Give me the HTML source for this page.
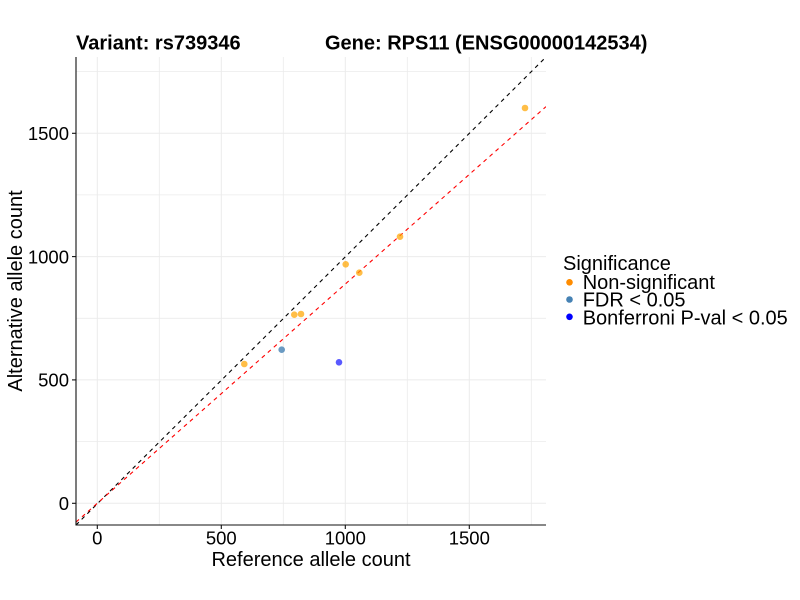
<!DOCTYPE html>
<html>
<head>
<meta charset="utf-8">
<style>
html,body{margin:0;padding:0;background:#fff;}
svg{display:block;}
text{font-family:"Liberation Sans",Arial,sans-serif;fill:#000;}
</style>
</head>
<body>
<svg width="800" height="600" viewBox="0 0 800 600" xmlns="http://www.w3.org/2000/svg">
<defs>
<clipPath id="panel"><rect x="76" y="57" width="470" height="468"/></clipPath>
</defs>
<rect x="0" y="0" width="800" height="600" fill="#fff"/>

<!-- Title -->
<text x="76" y="49.5" font-size="20" font-weight="bold">Variant: rs739346</text>
<text x="325" y="49.5" font-size="20" font-weight="bold">Gene: RPS11 (ENSG00000142534)</text>

<!-- grid -->
<g stroke="#ebebeb" stroke-width="1" fill="none">
<line x1="159.3" y1="57" x2="159.3" y2="525" stroke-width="0.8"/>
<line x1="283.3" y1="57" x2="283.3" y2="525" stroke-width="0.8"/>
<line x1="407.3" y1="57" x2="407.3" y2="525" stroke-width="0.8"/>
<line x1="531.3" y1="57" x2="531.3" y2="525" stroke-width="0.8"/>
<line x1="76" y1="441.6" x2="546" y2="441.6" stroke-width="0.8"/>
<line x1="76" y1="318.3" x2="546" y2="318.3" stroke-width="0.8"/>
<line x1="76" y1="194.9" x2="546" y2="194.9" stroke-width="0.8"/>
<line x1="76" y1="71.6" x2="546" y2="71.6" stroke-width="0.8"/>
<line x1="97.3" y1="57" x2="97.3" y2="525"/>
<line x1="221.3" y1="57" x2="221.3" y2="525"/>
<line x1="345.3" y1="57" x2="345.3" y2="525"/>
<line x1="469.3" y1="57" x2="469.3" y2="525"/>
<line x1="76" y1="503.3" x2="546" y2="503.3"/>
<line x1="76" y1="379.9" x2="546" y2="379.9"/>
<line x1="76" y1="256.6" x2="546" y2="256.6"/>
<line x1="76" y1="133.3" x2="546" y2="133.3"/>
</g>

<g clip-path="url(#panel)">
<line x1="76" y1="525" x2="546" y2="57" stroke="#000" stroke-width="1.1" stroke-dasharray="4 4"/>
<line x1="76" y1="522.1" x2="546" y2="106.6" stroke="#ff0000" stroke-width="1.1" stroke-dasharray="4 4"/>

<g fill="#ffa500" fill-opacity="0.72">
<circle cx="244.3" cy="364" r="3.3"/>
<circle cx="294.3" cy="314.7" r="3.3"/>
<circle cx="301" cy="314" r="3.3"/>
<circle cx="345.7" cy="264.3" r="3.3"/>
<circle cx="359.3" cy="272.7" r="3.3"/>
<circle cx="400" cy="236.7" r="3.3"/>
<circle cx="525" cy="108" r="3.3"/>
</g>
<circle cx="281.7" cy="349.7" r="3.3" fill="#4682b4" fill-opacity="0.8"/>
<circle cx="339" cy="362.3" r="3.3" fill="#0000ff" fill-opacity="0.65"/>
</g>

<!-- axes -->
<g stroke="#111" stroke-width="1.1">
<line x1="76" y1="57" x2="76" y2="525.5"/>
<line x1="75.5" y1="525" x2="546" y2="525"/>
<line x1="97.3" y1="525" x2="97.3" y2="529"/>
<line x1="221.3" y1="525" x2="221.3" y2="529"/>
<line x1="345.3" y1="525" x2="345.3" y2="529"/>
<line x1="469.3" y1="525" x2="469.3" y2="529"/>
<line x1="72" y1="503.3" x2="76" y2="503.3"/>
<line x1="72" y1="379.9" x2="76" y2="379.9"/>
<line x1="72" y1="256.6" x2="76" y2="256.6"/>
<line x1="72" y1="133.3" x2="76" y2="133.3"/>
</g>

<!-- tick labels -->
<g font-size="18.5" text-anchor="middle">
<text x="97.3" y="544.5">0</text>
<text x="221.3" y="544.5">500</text>
<text x="345.3" y="544.5">1000</text>
<text x="469.3" y="544.5">1500</text>
</g>
<g font-size="18.5" text-anchor="end">
<text x="69" y="510">0</text>
<text x="69" y="386.6">500</text>
<text x="69" y="263.3">1000</text>
<text x="69" y="140">1500</text>
</g>

<!-- axis titles -->
<text x="311" y="566" font-size="20" text-anchor="middle">Reference allele count</text>
<text transform="translate(22,291) rotate(-90)" font-size="20" text-anchor="middle">Alternative allele count</text>

<!-- legend -->
<text x="563" y="270" font-size="20">Significance</text>
<circle cx="569.5" cy="282.3" r="3.3" fill="#ff8c00"/>
<circle cx="569.5" cy="299.5" r="3.3" fill="#4682b4"/>
<circle cx="569.5" cy="316.8" r="3.3" fill="#0000ff"/>
<text x="582.7" y="289" font-size="20">Non-significant</text>
<text x="582.7" y="306.7" font-size="20">FDR &lt; 0.05</text>
<text x="582.7" y="324.3" font-size="20">Bonferroni P-val &lt; 0.05</text>
</svg>
</body>
</html>
